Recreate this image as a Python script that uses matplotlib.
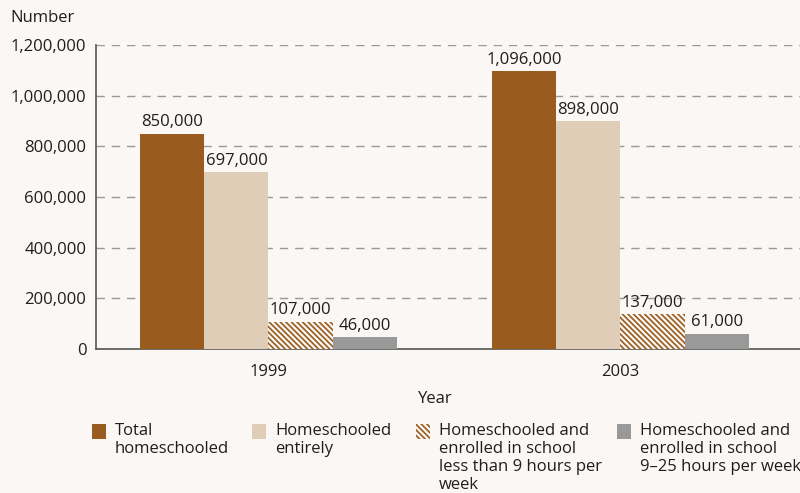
import matplotlib.pyplot as plt
import matplotlib.patches as mpatches
import numpy as np

plt.rcParams['font.family'] = ['Open Sans', 'DejaVu Sans']
plt.rcParams['hatch.linewidth'] = 1.6

# Data
years = ['1999', '2003']
series_names = [
    'Total\nhomeschooled',
    'Homeschooled\nentirely',
    'Homeschooled and\nenrolled in school\nless than 9 hours per\nweek',
    'Homeschooled and\nenrolled in school\n9\u201325 hours per week',
]
total = [850000, 1096000]
entirely = [697000, 898000]
less_9 = [107000, 137000]
between_9_25 = [46000, 61000]

BG = '#faf7f4'
TXT = '#1e1e1e'
FS = 12
colors = ['#9a5c1e', '#e0cdb8', '#9a5c1e', '#999999']
hatches = [None, None, '\\' * 6, None]

fig = plt.figure(figsize=(8, 4.93), dpi=100, facecolor=BG)
ax = fig.add_axes([0.12, 0.292, 0.88, 0.617])
ax.set_facecolor(BG)

x = np.arange(len(years))
width = 0.182
values = [total, entirely, less_9, between_9_25]
for i, (vals, c, h) in enumerate(zip(values, colors, hatches)):
    pos = x + (i - 1.5) * width
    ax.bar(pos, vals, width, color=c, hatch=h, edgecolor=BG if h else c,
           linewidth=0, zorder=3)
    for p, v in zip(pos, vals):
        ax.text(p, v + 14000, f'{v:,}', ha='center', va='bottom',
                fontsize=FS, color=TXT, zorder=4)

ax.set_xlim(-0.49, 1.51)
ax.set_ylim(0, 1200000)
ax.set_yticks(range(0, 1200001, 200000))
ax.set_yticklabels([f'{v:,}' for v in range(0, 1200001, 200000)], fontsize=FS, color=TXT)
ax.set_xticks(x)
ax.set_xticklabels(years, fontsize=FS, color=TXT)
ax.tick_params(length=0, pad=7)
ax.tick_params(axis='x', pad=11)
ax.yaxis.grid(True, linestyle=(0, (6, 5)), color='#999999', linewidth=1, zorder=0)
for s in ['top', 'right']:
    ax.spines[s].set_visible(False)
for s in ['left', 'bottom']:
    ax.spines[s].set_color('#555555')
    ax.spines[s].set_linewidth(1.2)

fig.text(10 / 800, 1 - 18 / 493, 'Number', fontsize=FS, va='center', ha='left', color=TXT)
fig.text(435 / 800, 1 - 399 / 493, 'Year', fontsize=FS, va='center', ha='center', color=TXT)

# Legend drawn by hand
sq_x = [92, 252, 416, 617]
txt_x = [115, 275, 439, 640]
for sx, tx, name, c, h in zip(sq_x, txt_x, series_names, colors, hatches):
    fig.patches.append(mpatches.Rectangle((sx / 800, 1 - 439 / 493), 14 / 800, 15 / 493,
                                          transform=fig.transFigure, facecolor=c, hatch=h,
                                          edgecolor=BG if h else c, linewidth=0))
    fig.text(tx / 800, 1 - 423 / 493, name, fontsize=FS, va='top', ha='left',
             linespacing=1.17, color=TXT)

fig.savefig('out.png', dpi=100, facecolor=BG)
